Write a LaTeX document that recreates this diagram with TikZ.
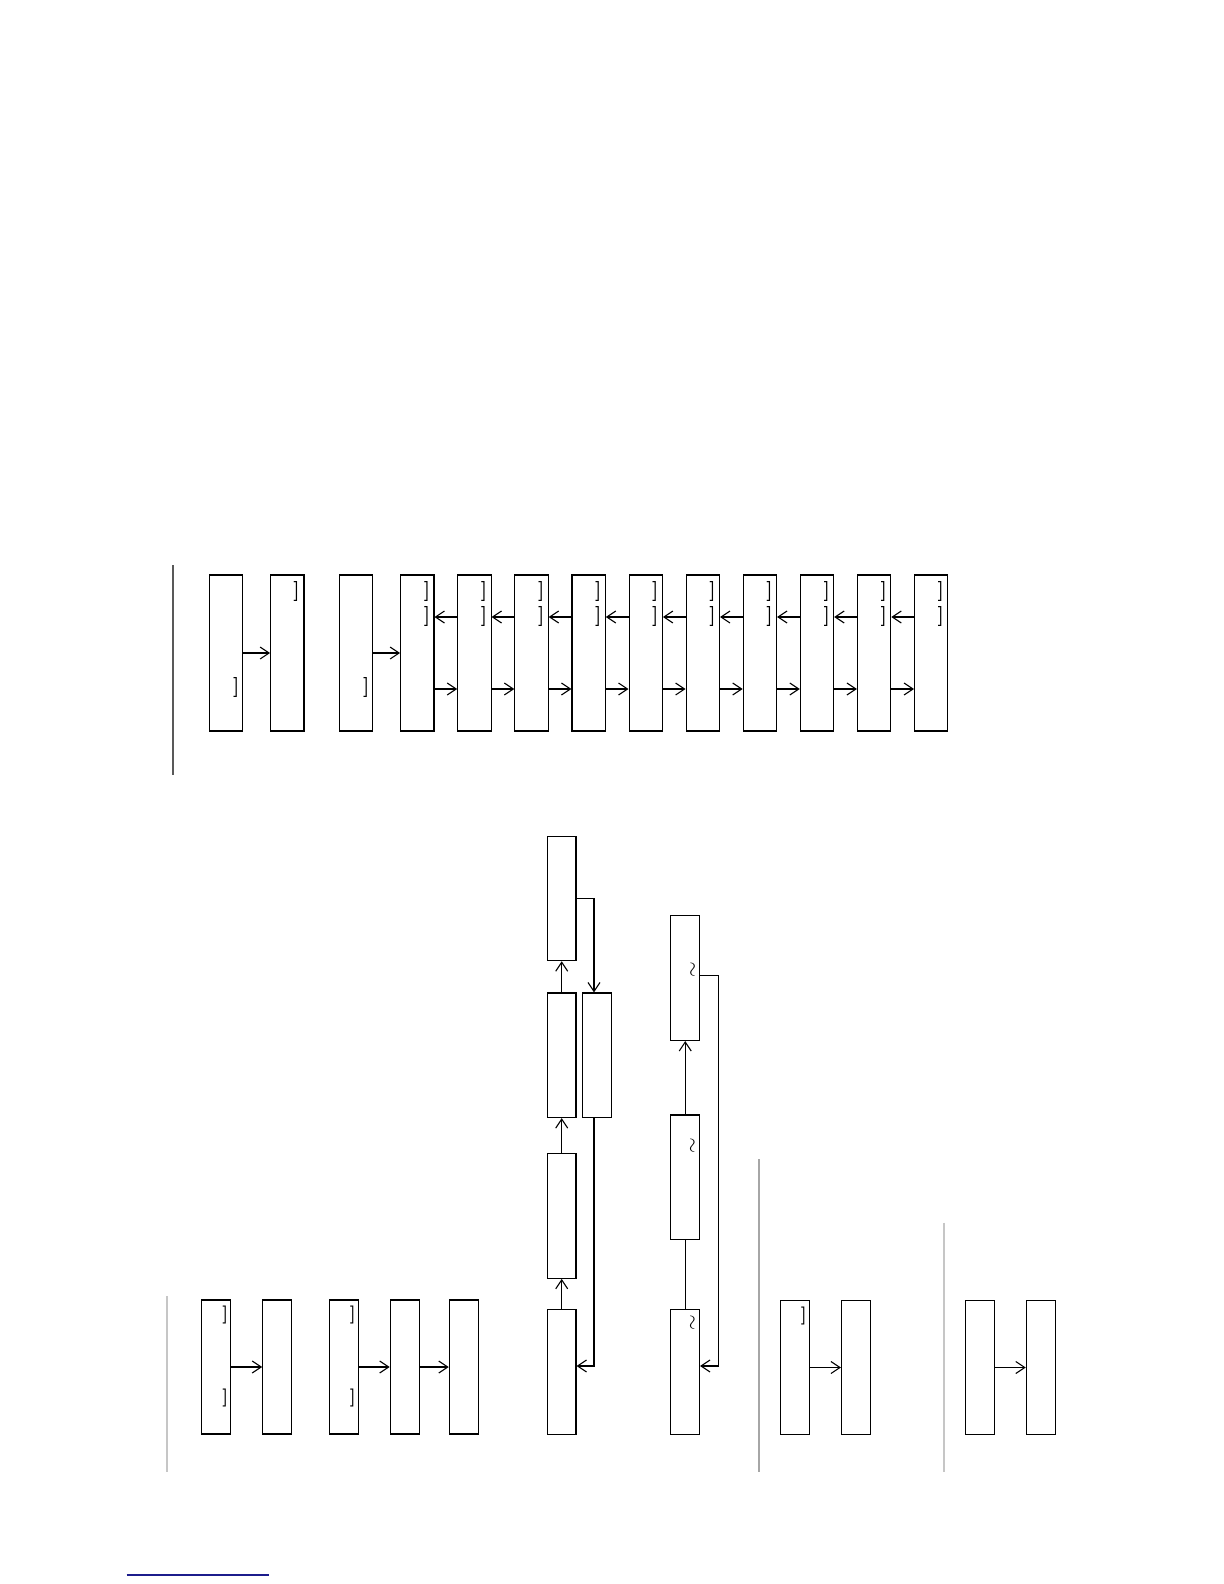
\documentclass[tikz,border=0pt]{standalone}
\usepackage{tikz}
\usetikzlibrary{positioning, arrows.meta}
\definecolor{linkblue}{RGB}{28,28,140}
\tikzset{%
  node distance=28.55pt,
  on grid,
  >={Straight Barb[length=4.5pt,width=6pt]},
  stagebox/.style={draw, line width=0.55pt, inner sep=0pt,
    minimum width=16.65pt, minimum height=78pt},
  unitbox/.style={draw, line width=0.55pt, inner sep=0pt,
    minimum width=14.5pt, minimum height=67pt},
  cellbox/.style={draw, line width=0.55pt, inner sep=0pt,
    minimum width=14.3pt, minimum height=62.3pt},
  brk/.style={inner sep=0pt, font=\normalsize\bfseries},
  brks/.style={inner sep=0pt, font=\small\bfseries},
  wavemark/.style={inner sep=0pt, rotate=90, font=\normalsize},
  divider/.style={line width=0.8pt},
  link/.style={->, line width=0.55pt},
  every edge/.style={   
    draw,
    ->,
    line width=0.55pt} %
}

\begin{document}
\begin{tikzpicture}[x=0.5pt, y=-0.5pt]
  \useasboundingbox (0,0) rectangle (1224,1584);

  % top row
  \draw[divider, black!65] (173,565) -- (173,775);
  \node[stagebox] (A1) at (225.7,653) {};
  \node[stagebox, right=30.8pt of A1] (A2) {};
  \node[stagebox, right=34.2pt of A2] (A3) {};
  \node[stagebox, right=30.8pt of A3] (A4) {};
  \node[stagebox, right=of A4] (A5) {};
  \node[stagebox, right=of A5] (A6) {};
  \node[stagebox, right=of A6] (A7) {};
  \node[stagebox, right=of A7] (A8) {};
  \node[stagebox, right=of A8] (A9) {};
  \node[stagebox, right=of A9] (A10) {};
  \node[stagebox, right=of A10] (A11) {};
  \node[stagebox, right=of A11] (A12) {};
  \node[stagebox, right=of A12] (A13) {};

  \node[brk] (k1) at ([shift={(-3.3pt,-56.75pt)}]A1.north east) {]};
  \node[brk] (k2) at ([shift={(-4pt,-8.75pt)}]A2.north east) {]};
  \node[brk] (k3) at ([shift={(-3.3pt,-56.75pt)}]A3.north east) {]};
  \foreach \i in {4,...,13}{
    \node[brk] (k\i-1) at ([shift={(-3.75pt,-8.75pt)}]A\i.north east) {]};
    \node[brk] (k\i-2) at ([shift={(-3.75pt,-21.25pt)}]A\i.north east) {]};
  }

  \draw (A1) edge (A2)
        (A3) edge (A4);
  \foreach \i [count=\j from 5] in {4,...,12}{
    \draw ([yshift=-18pt]A\i.east) edge ([yshift=-18pt]A\j.west)
          ([yshift=18pt]A\j.west) edge ([yshift=18pt]A\i.east);
  }

  % middle column
  \node[cellbox] (M5) at (561.7,1372) {};
  \node[cellbox, above=78pt of M5] (M4) {};
  \node[cellbox, above=80.35pt of M4] (M2) {};
  \node[cellbox, above=78.45pt of M2] (M1) {};
  \node[cellbox, right=17.75pt of M2] (M3) {};
  \coordinate (m3in) at ([xshift=-1.6pt]M3.north);
  \coordinate (m3out) at ([xshift=-1.6pt]M3.south);
  \draw (M5) edge (M4)
        (M4) edge (M2)
        (M2) edge (M1);
  \draw[link] (M1.east) -| (m3in);
  \draw[link] (m3out) |- ([yshift=3pt]M5.east);

  % right column
  \node[cellbox] (R3) at (685.2,1372) {};
  \node[cellbox, above=97.35pt of R3] (R2) {};
  \node[cellbox, above=99.55pt of R2] (R1) {};
  \node[wavemark] (w1) at ([shift={(-3pt,-27pt)}]R1.north east) {$\sim$};
  \node[wavemark] (w2) at ([shift={(-3.15pt,-15.6pt)}]R2.north east) {$\sim$};
  \node[wavemark] (w3) at ([shift={(-3.15pt,-6.75pt)}]R3.north east) {$\sim$};
  \draw (R2) edge (R1);
  \draw[line width=0.55pt] (R3) -- (R2);
  \draw[link] ([yshift=1.5pt]R1.east) -- ++(9.2pt,0pt) |- ([yshift=3pt]R3.east);

  % bottom left
  \draw[divider, gray!45] (166.7,1296) -- (166.7,1472);
  \node[unitbox] (B1) at (216.2,1367) {};
  \node[unitbox, right=30.5pt of B1] (B2) {};
  \node[unitbox, right=33.3pt of B2] (B3) {};
  \node[unitbox, right=30.45pt of B3] (B4) {};
  \node[unitbox, right=29.55pt of B4] (B5) {};
  \node[brks] (kb1) at ([shift={(-3pt,-7.75pt)}]B1.north east) {]};
  \node[brks] (kb2) at ([shift={(-3pt,-49.25pt)}]B1.north east) {]};
  \node[brks] (kb3) at ([shift={(-3pt,-7.75pt)}]B3.north east) {]};
  \node[brks] (kb4) at ([shift={(-3pt,-49.25pt)}]B3.north east) {]};
  \draw (B1) edge (B2)
        (B3) edge (B4)
        (B4) edge (B5);

  % bottom right
  \draw[divider, gray!70] (759,1159) -- (759,1472);
  \node[unitbox] (C1) at (794.8,1367.5) {};
  \node[unitbox, right=30.6pt of C1] (C2) {};
  \node[brks] (kc) at ([shift={(-3pt,-7.9pt)}]C1.north east) {]};
  \draw (C1) edge (C2);

  \draw[divider, gray!45] (943.7,1222.7) -- (943.7,1472);
  \node[unitbox] (D1) at (979.8,1367.5) {};
  \node[unitbox, right=30.5pt of D1] (D2) {};
  \draw (D1) edge (D2);

  \draw[linkblue, line width=0.8pt] (126.7,1575) -- (269,1575);
\end{tikzpicture}
\end{document}
